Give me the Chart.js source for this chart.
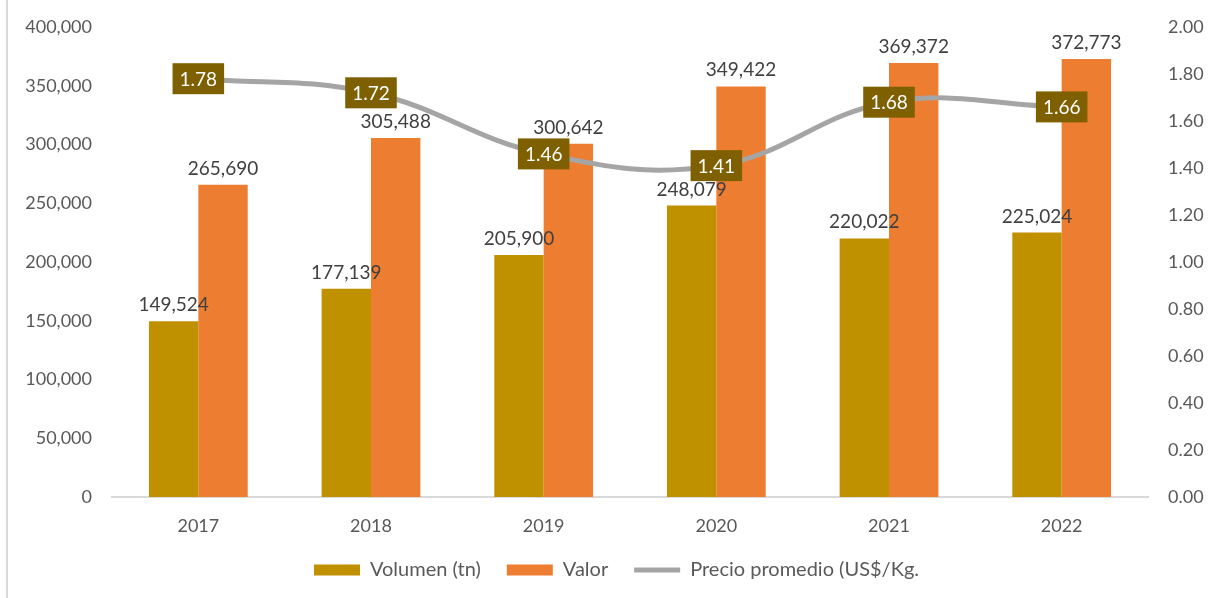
<!DOCTYPE html>
<html>
<head>
<meta charset="utf-8">
<script src="https://cdn.jsdelivr.net/npm/chart.js@4.4.1/dist/chart.umd.min.js"></script>
<style>
    html, body { margin: 0; padding: 0; background: #fff; }
    #wrap { position: relative; width: 1214px; height: 598px; }
    #edge { position: absolute; left: 6px; top: 0; width: 2px; height: 598px; background: #d9d9d9; }
</style>
</head>
<body>
<div id="wrap">
    <div id="edge"></div>
    <canvas id="chart" width="1214" height="598"></canvas>
</div>
<script>
// Datos
const years = ['2017', '2018', '2019', '2020', '2021', '2022'];
const volumen = [149524, 177139, 205900, 248079, 220022, 225024];
const valor = [265690, 305488, 300642, 349422, 369372, 372773];
const precio = [1.78, 1.72, 1.46, 1.41, 1.68, 1.66];

const FONT = 'Lato, "Open Sans", sans-serif';

// Etiquetas de datos
const dataLabels = {
    id: 'dataLabels',
    afterDatasetsDraw(chart) {
        const ctx = chart.ctx;
        ctx.save();
        // barras
        [0, 1].forEach(i => {
            const meta = chart.getDatasetMeta(i);
            meta.data.forEach((bar, j) => {
                const v = chart.data.datasets[i].data[j];
                ctx.font = '19px ' + FONT;
                ctx.fillStyle = '#404040';
                ctx.textAlign = 'center';
                ctx.textBaseline = 'alphabetic';
                ctx.fillText(v.toLocaleString('en-US'), bar.x, bar.y - 10);
            });
        });
        // linea
        const meta = chart.getDatasetMeta(2);
        meta.data.forEach((pt, j) => {
            const txt = precio[j].toFixed(2);
            ctx.font = '19px ' + FONT;
            const w = ctx.measureText(txt).width + 14;
            const h = 31;
            ctx.fillStyle = '#7F6000';
            ctx.fillRect(pt.x - w / 2, pt.y - h / 2, w, h);
            ctx.fillStyle = '#ffffff';
            ctx.textAlign = 'center';
            ctx.textBaseline = 'middle';
            ctx.fillText(txt, pt.x, pt.y + 1);
        });
        ctx.restore();
    }
};

new Chart(document.getElementById('chart'), {
    type: 'bar',
    data: {
        labels: years,
        datasets: [
            {
                label: 'Volumen (tn)',
                data: volumen,
                backgroundColor: '#BF9000',
                yAxisID: 'y',
                order: 1,
                pointStyle: 'rect'
            },
            {
                label: 'Valor',
                data: valor,
                backgroundColor: '#ED7D31',
                yAxisID: 'y',
                order: 1,
                pointStyle: 'rect'
            },
            {
                type: 'line',
                label: 'Precio promedio (US$/Kg.',
                data: precio,
                borderColor: '#A5A5A5',
                backgroundColor: '#A5A5A5',
                borderWidth: 5,
                tension: 0.4,
                pointRadius: 0,
                yAxisID: 'y1',
                order: 0,
                pointStyle: 'line'
            }
        ]
    },
    options: {
        responsive: false,
        animation: false,
        categoryPercentage: 0.572,
        barPercentage: 1,
        layout: { padding: { top: 27, left: 19, right: 0, bottom: 8 } },
        plugins: {
            legend: {
                position: 'bottom',
                labels: {
                    usePointStyle: true,
                    pointStyleWidth: 46,
                    boxHeight: 11,
                    padding: 26,
                    color: '#595959',
                    font: { family: FONT, size: 20 },
                    sort: (a, b) => a.datasetIndex - b.datasetIndex
                }
            },
            tooltip: { enabled: false }
        },
        scales: {
            x: {
                grid: { display: false, drawTicks: false },
                border: { color: '#d9d9d9', width: 2 },
                ticks: { color: '#595959', font: { family: FONT, size: 18 }, padding: 18 },
                afterFit(s) { s.height = 37; }
            },
            y: {
                position: 'left',
                min: 0,
                max: 400000,
                grid: { display: false, drawTicks: false },
                border: { display: false },
                ticks: {
                    stepSize: 50000,
                    color: '#595959',
                    font: { family: FONT, size: 18, lineHeight: 0.75 },
                    padding: 20,
                    callback: v => v.toLocaleString('en-US')
                },
                afterFit(s) { s.width = 93; }
            },
            y1: {
                position: 'right',
                min: 0,
                max: 2,
                grid: { display: false, drawTicks: false },
                border: { display: false },
                ticks: {
                    stepSize: 0.2,
                    color: '#595959',
                    font: { family: FONT, size: 18, lineHeight: 0.75 },
                    padding: 20,
                    callback: v => v.toFixed(2)
                },
                afterFit(s) { s.width = 66; }
            }
        }
    },
    plugins: [dataLabels]
});
</script>
</body>
</html>
